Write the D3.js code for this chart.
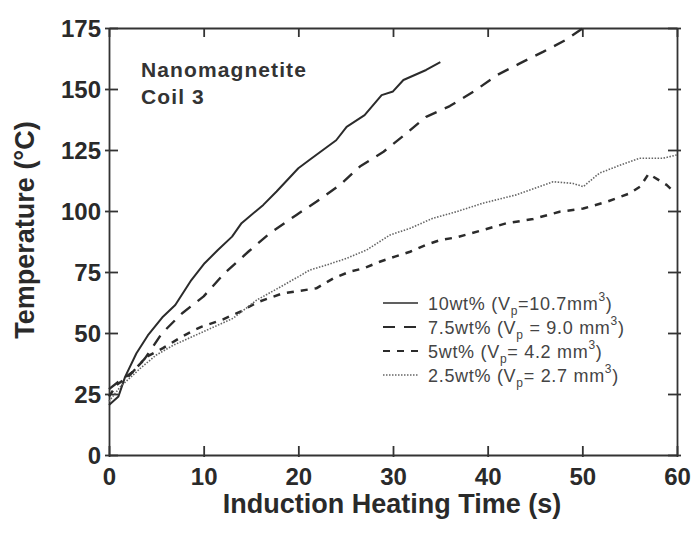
<!DOCTYPE html>
<html>
<head>
<meta charset="utf-8">
<script src="https://cdn.jsdelivr.net/npm/d3@7"></script>
<style>
  body { margin: 0; background: #fff; }
  svg { display: block; font-family: "Liberation Sans", Arial, sans-serif; }
  .axis path, .axis line { stroke: #333; stroke-width: 1.8; }
  .axis text { font-size: 24px; font-weight: bold; fill: #2a2a2a; }
</style>
</head>
<body>
<svg id="chart" width="693" height="534"></svg>
<script>
// 10wt%  (solid)
var t10 = [0, 1, 1.7, 2.9, 4.1, 5.7, 7, 8.7, 10.1, 11.5, 13, 14, 16.3, 17.7, 20, 21.2, 24, 25.1, 27, 28.8, 30, 31.1, 33.5, 35];
var temp10 = [20.5, 24, 32, 41.7, 49, 56.7, 61.5, 71.7, 78.6, 84, 89.5, 95, 102.5, 108, 117.5, 121, 129, 134.5, 139.3, 147.5, 149, 153.7, 157.8, 161];
// 7.5wt%  (long dash)
var t75 = [0, 1, 2.5, 3.8, 5.6, 7.7, 10, 12.2, 14.8, 17, 19.8, 21.9, 24.4, 26.5, 29, 31.4, 33.5, 36, 38.5, 41, 43.4, 45.9, 48.2, 50.1];
var temp75 = [27, 30, 34, 39.6, 49.9, 58, 65, 74.5, 83.6, 90.9, 98.4, 103.8, 110.7, 118.2, 124.3, 131.8, 138.6, 143, 148.9, 155.7, 160.5, 165.3, 170, 175];
// 5wt%  (short dash)
var t5 = [0, 0.8, 2, 4, 5.7, 7.7, 8.9, 9.8, 12, 14, 15.6, 18.4, 21.9, 23.7, 25.4, 26.9, 28.6, 30.2, 31.8, 33.4, 35, 36.7, 39.5, 42, 44.8, 47.6, 50.1, 52.6, 55, 56.1, 57, 58.9, 59.5];
var temp5 = [24, 28.7, 32, 40.3, 43.8, 48.5, 51, 52.6, 55.5, 59, 62.5, 66.3, 68.3, 72.4, 75.1, 76.5, 79.2, 81.3, 83.3, 86, 88.1, 89.2, 92.2, 95, 96.7, 99.7, 101, 103.8, 107.2, 110, 115.2, 110.7, 108.5];
// 2.5wt%  (dotted)
var t25 = [0, 1.2, 3.3, 5, 6.8, 9.6, 13.1, 15.6, 17.7, 20.2, 21.2, 23, 25.1, 27.2, 29.7, 31.8, 34.2, 36.7, 39.5, 43, 46.9, 49, 50.1, 51.8, 53.6, 56, 58.5, 60];
var temp25 = [22, 28, 35.5, 41, 45, 49.9, 56, 63.5, 68, 73.5, 75.8, 77.9, 80.6, 84, 90.2, 92.9, 97, 99.7, 103.2, 106.6, 112, 111.3, 110, 115.5, 118.2, 121.6, 121.6, 123];

var xTicks = [0, 10, 20, 30, 40, 50, 60];
var yTicks = [0, 25, 50, 75, 100, 125, 150, 175];

var series = [
    {t: t10, v: temp10, label: "10wt% (V", sub: "p", rest: "=10.7mm", dash: null, width: 2, color: "#2b2b2b"},
    {t: t75, v: temp75, label: "7.5wt% (V", sub: "p", rest: " = 9.0 mm", dash: "12,9", width: 2.4, color: "#2b2b2b"},
    {t: t5, v: temp5, label: "5wt% (V", sub: "p", rest: "= 4.2 mm", dash: "7,7", width: 2.5, color: "#2b2b2b"},
    {t: t25, v: temp25, label: "2.5wt% (V", sub: "p", rest: "= 2.7 mm", dash: "1.5,1.5", width: 1.6, color: "#666"}
];

var svg = d3.select("#chart");
var margin = {left: 109, right: 16, top: 28, bottom: 79};
var W = 693, H = 534;

var x = d3.scaleLinear().domain([0, 60]).range([margin.left, W - margin.right]);
var y = d3.scaleLinear().domain([0, 175]).range([H - margin.bottom, margin.top]);

// axes, ticks point inward
var gx = svg.append("g").attr("class", "axis")
    .attr("transform", "translate(0," + y(0) + ")")
    .call(d3.axisBottom(x).tickValues(xTicks).tickSize(-9).tickSizeOuter(0).tickPadding(13));
gx.selectAll(".tick line").attr("y1", 2);

var gy = svg.append("g").attr("class", "axis")
    .attr("transform", "translate(" + x(0) + ",0)")
    .call(d3.axisLeft(y).tickValues(yTicks).tickSize(-9).tickSizeOuter(0).tickPadding(8));
gy.selectAll(".tick line").attr("x1", -4);
gy.selectAll(".tick text").attr("dy", "0.35em");

svg.append("g").attr("class", "axis")
    .attr("transform", "translate(0," + y(175) + ")")
    .call(d3.axisTop(x).tickValues(xTicks).tickSize(-9).tickSizeOuter(0).tickFormat(""));

var gr = svg.append("g").attr("class", "axis")
    .attr("transform", "translate(" + x(60) + ",0)")
    .call(d3.axisRight(y).tickValues(yTicks).tickSize(-9).tickSizeOuter(0).tickFormat(""));
gr.selectAll(".tick line").attr("x1", 4);

// curves
var line = d3.line()
    .x(function(d) { return x(d[0]); })
    .y(function(d) { return y(d[1]); });

series.forEach(function(s) {
    var pts = s.t.map(function(tt, i) { return [tt, s.v[i]]; });
    svg.append("path")
        .datum(pts)
        .attr("d", line)
        .attr("fill", "none")
        .attr("stroke", s.color)
        .attr("stroke-width", s.width)
        .attr("stroke-dasharray", s.dash)
        .attr("stroke-linejoin", "round");
});

// axis titles
svg.append("text")
    .attr("x", 392).attr("y", 513)
    .attr("text-anchor", "middle")
    .style("font-size", "27px").style("font-weight", "bold").style("fill", "#2a2a2a")
    .text("Induction Heating Time (s)");

svg.append("text")
    .attr("transform", "translate(34,230) rotate(-90)")
    .attr("text-anchor", "middle")
    .style("font-size", "27px").style("font-weight", "bold").style("fill", "#2a2a2a")
    .text("Temperature (°C)");

// annotation
var note = svg.append("text")
    .style("font-size", "21px").style("font-weight", "bold").style("fill", "#333")
    .style("letter-spacing", "1.1px");
note.append("tspan").attr("x", 141).attr("y", 77).text("Nanomagnetite");
note.append("tspan").attr("x", 141).attr("y", 104).text("Coil 3");

// legend
var legend = svg.append("g").attr("transform", "translate(383,303)");
series.forEach(function(s, i) {
    var row = legend.append("g").attr("transform", "translate(0," + (i * 24) + ")");
    row.append("line")
        .attr("x1", 0).attr("x2", 35)
        .attr("stroke", s.color)
        .attr("stroke-width", s.width * 0.8)
        .attr("stroke-dasharray", s.dash);
    var txt = row.append("text")
        .attr("x", 45).attr("y", 7)
        .style("font-size", "18px").style("fill", "#444").style("letter-spacing", "0.7px");
    txt.append("tspan").text(s.label);
    txt.append("tspan").attr("dy", 5).style("font-size", "12px").text(s.sub);
    txt.append("tspan").attr("dy", -5).text(s.rest);
    txt.append("tspan").attr("dy", -9).style("font-size", "12px").text("3");
    txt.append("tspan").attr("dy", 9).text(")");
});
</script>
</body>
</html>
